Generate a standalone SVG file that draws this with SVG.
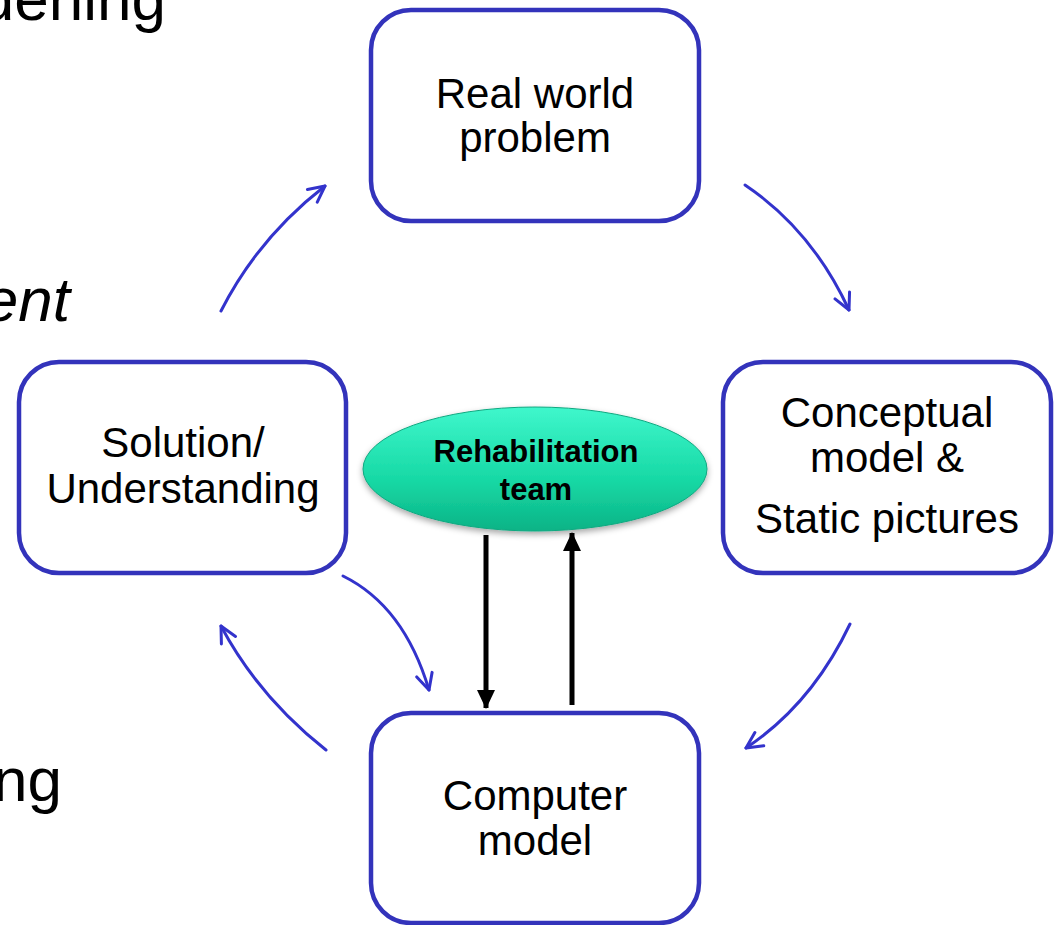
<svg xmlns="http://www.w3.org/2000/svg" width="1058" height="925" viewBox="0 0 1058 925">
<style>
.box{fill:#fff;stroke:#3333bb;stroke-width:4.5}
.lbl{font-family:"Liberation Sans",Arial,sans-serif;font-size:42px;fill:#000;text-anchor:middle}
.side{font-family:"Liberation Sans",Arial,sans-serif;font-size:62px;fill:#000;text-anchor:end}
.blue{fill:none;stroke:#3333cc;stroke-width:3;stroke-linecap:round}
.blk{fill:none;stroke:#000;stroke-width:5}
.rt{font-family:"Liberation Sans",Arial,sans-serif;font-size:31px;font-weight:bold;fill:#000;text-anchor:middle}
</style>
<defs>
<marker id="vh" viewBox="0 0 20 20" refX="18" refY="10" markerWidth="20" markerHeight="20" markerUnits="userSpaceOnUse" orient="auto">
<path d="M2,2 L18,10 L2,18" fill="none" stroke="#3333cc" stroke-width="3" stroke-linecap="round" stroke-linejoin="round"/>
</marker>
<marker id="bh" viewBox="0 0 20 20" refX="18" refY="10" markerWidth="20" markerHeight="20" markerUnits="userSpaceOnUse" orient="auto">
<path d="M0,1 L19,10 L0,19 Z" fill="#000"/>
</marker>
<linearGradient id="eg" x1="0" y1="0" x2="0" y2="1">
<stop offset="0" stop-color="#3ff7cc"/>
<stop offset="0.6" stop-color="#16d8a4"/>
<stop offset="1" stop-color="#0cb386"/>
</linearGradient>
<filter id="sh" x="-10%" y="-10%" width="120%" height="130%">
<feDropShadow dx="0" dy="3" stdDeviation="3" flood-color="#000" flood-opacity="0.35"/>
</filter>
</defs>
<rect width="1058" height="925" fill="#fff"/>
<text class="side" x="166" y="20">dening</text>
<text class="side" x="70" y="321" font-style="italic">ent</text>
<text class="side" x="62" y="801">ng</text>
<g id="connectors">
<path class="blue" d="M221,311 Q258,238 325,186" marker-end="url(#vh)"/>
<path class="blue" d="M745,185 Q812,230 849,310" marker-end="url(#vh)"/>
<path class="blue" d="M850,624 Q812,704 746,748" marker-end="url(#vh)"/>
<path class="blue" d="M326,750 Q258,696 221,626" marker-end="url(#vh)"/>
<path class="blue" d="M343,576 Q404,606 429,690" marker-end="url(#vh)"/>
<path class="blk" d="M486,535 L486,708" marker-end="url(#bh)"/>
<path class="blk" d="M572,705 L572,533" marker-end="url(#bh)"/>
</g>
<g id="real-world">
<rect class="box" x="371" y="10" width="328" height="211" rx="40"/>
<text class="lbl" x="535" y="108">Real world</text>
<text class="lbl" x="535" y="152">problem</text>
</g>
<g id="conceptual">
<rect class="box" x="723" y="362" width="328" height="211" rx="40"/>
<text class="lbl" x="887" y="427">Conceptual</text>
<text class="lbl" x="887" y="472">model &amp;</text>
<text class="lbl" x="887" y="533">Static pictures</text>
</g>
<g id="solution">
<rect class="box" x="19" y="362" width="327" height="211" rx="40"/>
<text class="lbl" x="183" y="457">Solution/</text>
<text class="lbl" x="183" y="503">Understanding</text>
</g>
<g id="computer">
<rect class="box" x="371" y="713" width="328" height="210" rx="40"/>
<text class="lbl" x="535" y="810">Computer</text>
<text class="lbl" x="535" y="855">model</text>
</g>
<g id="rehab">
<ellipse cx="535" cy="469" rx="172" ry="62" fill="url(#eg)" stroke="#10a880" stroke-width="1" filter="url(#sh)"/>
<text class="rt" x="536" y="462">Rehabilitation</text>
<text class="rt" x="536" y="500">team</text>
</g>
</svg>
